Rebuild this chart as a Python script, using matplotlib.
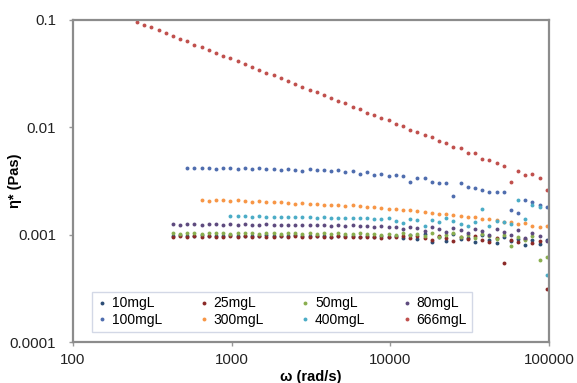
import numpy as np
import matplotlib
matplotlib.use('Agg')
import matplotlib.pyplot as plt

plt.rcParams['font.family'] = ['Liberation Sans', 'DejaVu Sans']

# angular frequency grid (rad/s), shared by all samples
omega = [253, 281, 312, 346, 384, 426, 473, 525, 583, 647,
         718, 797, 885, 982, 1090, 1210, 1343, 1491, 1655, 1837,
         2039, 2263, 2512, 2789, 3095, 3436, 3814, 4233, 4699, 5216,
         5790, 6427, 7134, 7918, 8790, 9757, 10830, 12020, 13340, 14810,
         16440, 18250, 20260, 22480, 24960, 27700, 30750, 34130, 37890, 42060,
         46680, 51820, 57520, 63850, 70870, 78670, 87320, 96930]

# complex viscosity (Pa s); each list ends at the highest frequency
eta_10 = [0.00098, 0.00099, 0.00097, 0.00098, 0.00099, 0.00098, 0.00097, 0.00098, 0.00099, 0.00097,
          0.00098, 0.00098, 0.00097, 0.00099, 0.00098, 0.00097, 0.00098, 0.00099, 0.00097, 0.00098,
          0.00097, 0.00098, 0.00096, 0.00098, 0.00097, 0.00098, 0.00096, 0.00097, 0.00095, 0.00098,
          0.00096, 0.00097, 0.00093, 0.00099, 0.00092, 0.00101, 0.00085, 0.00096, 0.00088, 0.00102,
          0.00091, 0.00094, 0.00086, 0.00099, 0.00090, 0.00083, 0.00095, 0.00087, 0.00092, 0.00080,
          0.00089, 0.00082, 0.00090]
eta_25 = [0.00096, 0.00097, 0.00096, 0.00097, 0.00096, 0.00097, 0.00096, 0.00096, 0.00097, 0.00096,
          0.00097, 0.00096, 0.00097, 0.00096, 0.00096, 0.00097, 0.00096, 0.00097, 0.00096, 0.00096,
          0.00097, 0.00096, 0.00095, 0.00097, 0.00096, 0.00095, 0.00096, 0.00095, 0.00096, 0.00094,
          0.00096, 0.00095, 0.00097, 0.00093, 0.00098, 0.00094, 0.00090, 0.00097, 0.00093, 0.00088,
          0.00096, 0.00091, 0.00098, 0.00089, 0.00085, 0.00094, 0.00054, 0.00090, 0.00086, 0.00092,
          0.00084, 0.00088, 0.00031]
eta_50 = [0.00103, 0.00102, 0.00104, 0.00103, 0.00102, 0.00103, 0.00104, 0.00103, 0.00102, 0.00103,
          0.00103, 0.00104, 0.00102, 0.00103, 0.00103, 0.00102, 0.00104, 0.00103, 0.00102, 0.00103,
          0.00102, 0.00103, 0.00101, 0.00103, 0.00102, 0.00101, 0.00103, 0.00101, 0.00102, 0.00100,
          0.00102, 0.00100, 0.00103, 0.00099, 0.00101, 0.00097, 0.00103, 0.00095, 0.00100, 0.00104,
          0.00096, 0.00099, 0.00093, 0.00101, 0.00097, 0.00092, 0.00100, 0.00078, 0.00095, 0.00090,
          0.00098, 0.00058, 0.00062]
eta_80 = [0.00125, 0.00123, 0.00126, 0.00125, 0.00124, 0.00125, 0.00126, 0.00124, 0.00125, 0.00124,
          0.00125, 0.00124, 0.00123, 0.00125, 0.00124, 0.00123, 0.00124, 0.00123, 0.00124, 0.00122,
          0.00123, 0.00122, 0.00121, 0.00122, 0.00121, 0.00122, 0.00120, 0.00121, 0.00119, 0.00120,
          0.00118, 0.00119, 0.00112, 0.00118, 0.00115, 0.00108, 0.00117, 0.00113, 0.00106, 0.00116,
          0.00110, 0.00104, 0.00114, 0.00108, 0.00100, 0.00112, 0.00105, 0.00099, 0.00110, 0.00094,
          0.00103, 0.00097, 0.00088]
eta_100 = [0.0042, 0.0042, 0.0042, 0.0042, 0.0041, 0.0042, 0.0042, 0.0041, 0.0042, 0.0041,
           0.0042, 0.0041, 0.0041, 0.0040, 0.0041, 0.0040, 0.0039, 0.0041, 0.0040, 0.0040,
           0.0039, 0.0040, 0.0038, 0.0039, 0.0037, 0.0038, 0.0036, 0.0037, 0.0035, 0.0036,
           0.0035, 0.0031, 0.0034, 0.0034, 0.0031, 0.0030, 0.0030, 0.0023, 0.0030, 0.0028,
           0.0027, 0.0026, 0.0025, 0.0025, 0.0025, 0.0017, 0.0016, 0.0021, 0.0020, 0.0019,
           0.0018]
eta_300 = [0.00210, 0.00205, 0.00210, 0.00210, 0.00205, 0.00210, 0.00205, 0.00200, 0.00205, 0.00200,
           0.00200, 0.00200, 0.00198, 0.00195, 0.00197, 0.00193, 0.00192, 0.00190, 0.00188, 0.00190,
           0.00186, 0.00188, 0.00183, 0.00180, 0.00182, 0.00176, 0.00175, 0.00172, 0.00170, 0.00168,
           0.00165, 0.00162, 0.00160, 0.00157, 0.00156, 0.00152, 0.00150, 0.00146, 0.00145, 0.00140,
           0.00140, 0.00136, 0.00132, 0.00130, 0.00125, 0.00128, 0.00120, 0.00118, 0.00120]
eta_400 = [0.00149, 0.00148, 0.00149, 0.00147, 0.00148, 0.00147, 0.00146, 0.00147, 0.00146, 0.00145,
           0.00146, 0.00145, 0.00144, 0.00145, 0.00144, 0.00143, 0.00144, 0.00143, 0.00142, 0.00143,
           0.00141, 0.00140, 0.00142, 0.00135, 0.00128, 0.00140, 0.00138, 0.00120, 0.00137, 0.00130,
           0.00142, 0.00133, 0.00125, 0.00120, 0.00130, 0.00175, 0.00120, 0.00135, 0.00130, 0.00125,
           0.00210, 0.00140, 0.00190, 0.00180, 0.00042]
eta_666 = [0.0959, 0.0905, 0.0850, 0.0802, 0.0750, 0.0712, 0.0665, 0.0630, 0.0590, 0.0558,
           0.0522, 0.0495, 0.0462, 0.0438, 0.0410, 0.0388, 0.0362, 0.0344, 0.0322, 0.0305,
           0.0285, 0.0270, 0.0252, 0.0239, 0.0223, 0.0212, 0.0198, 0.0188, 0.0175, 0.0167,
           0.0155, 0.0148, 0.0137, 0.0131, 0.0121, 0.0116, 0.0107, 0.0103, 0.0095, 0.0091,
           0.0084, 0.0081, 0.0074, 0.0072, 0.0066, 0.0064, 0.0058, 0.0057, 0.0051, 0.0050,
           0.0046, 0.0044, 0.0031, 0.0039, 0.0036, 0.0037, 0.0034, 0.0026]

labels = ['10mgL', '25mgL', '50mgL', '80mgL', '100mgL', '300mgL', '400mgL', '666mgL']
series = [eta_10, eta_25, eta_50, eta_80, eta_100, eta_300, eta_400, eta_666]
colors = ['#2C4D75', '#8B2A28', '#8AAE4F', '#5E4A7E', '#4F6DAE', '#F79646', '#4BACC6', '#C0504D']

x_ticks = [100, 1000, 10000, 100000]
x_ticklabels = ['100', '1000', '10000', '100000']
y_ticks = [0.0001, 0.001, 0.01, 0.1]
y_ticklabels = ['0.0001', '0.001', '0.01', '0.1']

fig = plt.figure(figsize=(5.77, 3.83), dpi=100)
ax = fig.add_axes([0.1265, 0.107, 0.825, 0.841])

handles = {}
omega = np.array(omega)
for lab, vals, col in zip(labels, series, colors):
    x = omega[len(omega) - len(vals):]
    h, = ax.plot(x, vals, linestyle='none', marker='o', ms=2.8, mew=0, color=col, label=lab)
    handles[lab] = h

ax.set_xscale('log')
ax.set_yscale('log')
ax.set_xlim(100, 100000)
ax.set_ylim(0.0001, 0.1)
ax.set_xticks(x_ticks)
ax.set_xticklabels(x_ticklabels)
ax.set_yticks(y_ticks)
ax.set_yticklabels(y_ticklabels)
ax.minorticks_off()
ax.tick_params(axis='both', length=3, width=1, color='#999999', labelsize=10.8,
               labelcolor='#222222')
ax.tick_params(axis='x', pad=5)
ax.tick_params(axis='y', pad=9)
for sp in ax.spines.values():
    sp.set_color('#8c8c8c')
    sp.set_linewidth(1.6)

ax.set_xlabel('ω (rad/s)', fontsize=10.5, fontweight='bold')
ax.set_ylabel('η* (Pas)', fontsize=10.5, fontweight='bold')
ax.xaxis.set_label_coords(0.5, -0.088)
ax.yaxis.set_label_coords(-0.108, 0.5)

# legend filled column by column -> reorder so rows read 10,25,50,80 / 100,300,400,666
order = ['10mgL', '100mgL', '25mgL', '300mgL', '50mgL', '400mgL', '80mgL', '666mgL']
leg = ax.legend([handles[k] for k in order], order, ncol=4, loc='lower left',
                bbox_to_anchor=(0.04, 0.031, 0.798, 0.124), mode='expand',
                borderaxespad=0, fontsize=10, frameon=True, fancybox=False,
                handlelength=0.8, handletextpad=0.3, borderpad=0.35,
                labelspacing=0.2, markerscale=1.0)
leg.get_frame().set_edgecolor('#c8cfe0')
leg.get_frame().set_linewidth(1.0)

fig.savefig('out.png', dpi=100)
